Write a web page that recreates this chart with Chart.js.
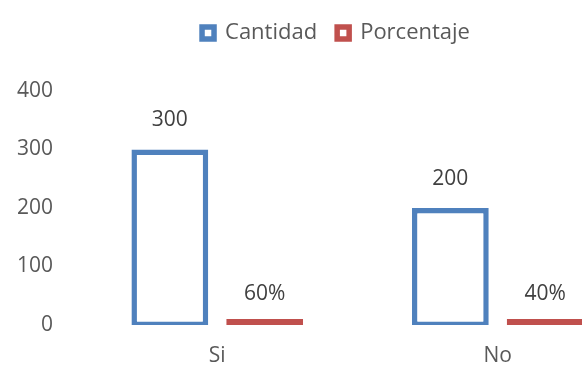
<!DOCTYPE html>
<html>
<head>
<meta charset="utf-8">
<script src="https://cdn.jsdelivr.net/npm/chart.js@4"></script>
<style>
  html, body { margin: 0; padding: 0; background: #fff; overflow: hidden; }
  #wrap { width: 680px; height: 365px; }
</style>
</head>
<body>
<div id="wrap"><canvas id="chart" width="680" height="365"></canvas></div>
<script>
const categories = ['Si', 'No'];
const cantidad = [300, 200];
const porcentaje = [0.6, 0.4];
const yTicks = [0, 100, 200, 300, 400];

const fontFamily = '"Open Sans", "Liberation Sans", sans-serif';

// labels over each bar
const valueLabels = {
    id: 'valueLabels',
    afterDatasetsDraw(chart) {
        const ctx = chart.ctx;
        ctx.save();
        ctx.font = '21px ' + fontFamily;
        ctx.fillStyle = '#404040';
        ctx.textAlign = 'center';
        ctx.textBaseline = 'middle';
        chart.data.datasets.forEach((ds, i) => {
            const gap = i === 1 ? 25 : 29;
            chart.getDatasetMeta(i).data.forEach((bar, j) => {
                const v = ds.data[j];
                const text = i === 1 ? Math.round(v * 100) + '%' : String(v);
                ctx.fillText(text, bar.x, bar.y - gap);
            });
        });
        ctx.restore();
    }
};

// move the legend up and to the right, leaves the plot where it is
const legendNudge = {
    id: 'legendNudge',
    afterLayout(chart) {
        const lg = chart.legend;
        lg.left += 17; lg.right += 17;
        lg.top -= 37; lg.bottom -= 37;
    }
};

new Chart(document.getElementById('chart'), {
    type: 'bar',
    data: {
        labels: categories,
        datasets: [{
            label: 'Cantidad',
            data: cantidad,
            backgroundColor: '#ffffff',
            borderColor: '#4f81bd',
            borderWidth: 5.5,
            borderSkipped: false,
            base: -3.5,
            barPercentage: 0.81,
            categoryPercentage: 0.676
        },
        {
            label: 'Porcentaje',
            data: porcentaje,
            backgroundColor: '#ffffff',
            borderColor: '#c0504d',
            borderWidth: 5.5,
            borderSkipped: false,
            base: -3.5,
            minBarLength: 6,
            barPercentage: 0.81,
            categoryPercentage: 0.676
        }]
    },
    options: {
        responsive: false,
        animation: false,
        layout: {
            padding: { left: 0, right: 42, top: 39, bottom: 0 }
        },
        plugins: {
            legend: {
                display: true,
                labels: {
                    boxWidth: 12,
                    boxHeight: 12,
                    padding: 20,
                    color: '#595959',
                    font: { family: fontFamily, size: 22 }
                }
            },
            tooltip: { enabled: false }
        },
        scales: {
            x: {
                grid: { display: false, drawTicks: false },
                border: { display: false },
                ticks: {
                    color: '#595959',
                    padding: 18,
                    font: { family: fontFamily, size: 21 }
                },
                afterFit(scale) { scale.height = 40; }
            },
            y: {
                min: yTicks[0],
                max: yTicks[yTicks.length - 1],
                grid: { display: false, drawTicks: false },
                border: { display: false },
                afterBuildTicks(scale) {
                    scale.ticks = yTicks.map(v => ({ value: v }));
                },
                ticks: {
                    color: '#595959',
                    padding: 24,
                    font: { family: fontFamily, size: 21 }
                },
                afterFit(scale) { scale.width = 77; }
            }
        }
    },
    plugins: [valueLabels, legendNudge]
});
</script>
</body>
</html>
